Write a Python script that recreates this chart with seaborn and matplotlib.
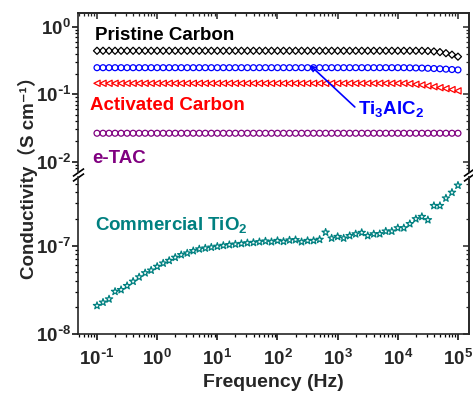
import numpy as np
import matplotlib
matplotlib.use('Agg')
import matplotlib.pyplot as plt
import seaborn as sns
from matplotlib.ticker import LogLocator, NullFormatter

# frequency grid: 10 points per decade, 0.1 Hz .. 100 kHz
freq = np.logspace(-1, 5, 61)

pristine_carbon = [
    0.44, 0.44, 0.44, 0.44, 0.44, 0.44, 0.44, 0.44, 0.44, 0.44,
    0.44, 0.44, 0.44, 0.44, 0.44, 0.44, 0.44, 0.44, 0.44, 0.44,
    0.44, 0.44, 0.44, 0.44, 0.44, 0.44, 0.44, 0.44, 0.44, 0.44,
    0.44, 0.44, 0.44, 0.44, 0.44, 0.44, 0.44, 0.44, 0.44, 0.44,
    0.44, 0.44, 0.44, 0.44, 0.44, 0.44, 0.44, 0.44, 0.44, 0.44,
    0.44, 0.44, 0.44, 0.44, 0.44, 0.437, 0.43, 0.42, 0.405, 0.385,
    0.36]
ti3alc2 = [
    0.247, 0.247, 0.247, 0.247, 0.247, 0.247, 0.247, 0.247, 0.247, 0.247,
    0.247, 0.247, 0.247, 0.247, 0.247, 0.247, 0.247, 0.247, 0.247, 0.247,
    0.247, 0.247, 0.247, 0.247, 0.247, 0.247, 0.247, 0.247, 0.247, 0.247,
    0.247, 0.247, 0.247, 0.247, 0.247, 0.247, 0.247, 0.247, 0.247, 0.247,
    0.247, 0.247, 0.247, 0.247, 0.247, 0.247, 0.247, 0.247, 0.247, 0.247,
    0.247, 0.247, 0.246, 0.245, 0.244, 0.242, 0.240, 0.238, 0.235, 0.232,
    0.229]
activated_carbon = [
    0.145, 0.145, 0.145, 0.145, 0.145, 0.145, 0.145, 0.145, 0.145, 0.145,
    0.145, 0.145, 0.145, 0.145, 0.145, 0.145, 0.145, 0.145, 0.145, 0.145,
    0.145, 0.145, 0.145, 0.145, 0.145, 0.145, 0.145, 0.145, 0.145, 0.145,
    0.145, 0.145, 0.145, 0.145, 0.145, 0.145, 0.145, 0.145, 0.145, 0.145,
    0.145, 0.145, 0.145, 0.145, 0.145, 0.145, 0.145, 0.145, 0.145, 0.145,
    0.145, 0.145, 0.143, 0.140, 0.137, 0.133, 0.129, 0.125, 0.121, 0.117,
    0.112]
e_tac = [
    0.0264, 0.0264, 0.0264, 0.0264, 0.0264, 0.0264, 0.0264, 0.0264, 0.0264, 0.0264,
    0.0264, 0.0264, 0.0264, 0.0264, 0.0264, 0.0264, 0.0264, 0.0264, 0.0264, 0.0264,
    0.0264, 0.0264, 0.0264, 0.0264, 0.0264, 0.0264, 0.0264, 0.0264, 0.0264, 0.0264,
    0.0264, 0.0264, 0.0264, 0.0264, 0.0264, 0.0264, 0.0264, 0.0264, 0.0264, 0.0264,
    0.0264, 0.0264, 0.0264, 0.0264, 0.0264, 0.0264, 0.0264, 0.0264, 0.0264, 0.0264,
    0.0264, 0.0264, 0.0264, 0.0264, 0.0264, 0.0264, 0.0264, 0.0264, 0.0264, 0.0264,
    0.0264]
commercial_tio2 = [
    2.09e-8, 2.28e-8, 2.48e-8, 3.02e-8, 3.16e-8, 3.51e-8, 3.93e-8, 4.40e-8, 4.90e-8, 5.25e-8,
    5.79e-8, 6.31e-8, 6.76e-8, 7.33e-8, 7.85e-8, 8.20e-8, 8.71e-8, 9.12e-8, 9.33e-8, 9.55e-8,
    9.77e-8, 1.00e-7, 1.02e-7, 1.035e-7, 1.05e-7, 1.07e-7, 1.08e-7, 1.10e-7, 1.12e-7, 1.10e-7,
    1.135e-7, 1.11e-7, 1.15e-7, 1.16e-7, 1.10e-7, 1.135e-7, 1.135e-7, 1.17e-7, 1.41e-7, 1.21e-7,
    1.26e-7, 1.21e-7, 1.29e-7, 1.35e-7, 1.40e-7, 1.29e-7, 1.35e-7, 1.355e-7, 1.45e-7, 1.45e-7,
    1.58e-7, 1.58e-7, 1.76e-7, 2.00e-7, 2.12e-7, 1.95e-7, 2.82e-7, 2.82e-7, 3.43e-7, 3.98e-7,
    4.79e-7]

x_exps = [-1, 0, 1, 2, 3, 4, 5]
top_exps = [-2, -1, 0]
bot_exps = [-8, -7]

sns.set_style('ticks')
plt.rcParams['font.family'] = ['Liberation Sans', 'Noto Sans CJK SC', 'DejaVu Sans']
plt.rcParams['font.weight'] = 'bold'
plt.rcParams['mathtext.default'] = 'regular'
plt.rcParams['axes.linewidth'] = 1.2


def pow_label(e):
    # short hyphen in the exponent, like the original
    if e < 0:
        return '10$^{\\text{-}%d}$' % -e
    return '10$^{%d}$' % e


fig = plt.figure(figsize=(4.73, 3.99), dpi=100)
ax_top = fig.add_axes([0.1649, 0.5689, 0.8266, 0.3985])
ax_bot = fig.add_axes([0.1649, 0.1629, 0.8266, 0.3935])


def draw(ax, y, marker, color, size):
    sns.scatterplot(x=freq, y=y, ax=ax, marker=marker, s=size,
                    facecolor='none', edgecolor=color, linewidth=0.9)


draw(ax_top, pristine_carbon, 'D', 'black', 13)
draw(ax_top, ti3alc2, 'o', 'blue', 18)
draw(ax_top, activated_carbon, '<', 'red', 20)
draw(ax_top, e_tac, 'o', '#800080', 18)
draw(ax_bot, commercial_tio2, '*', '#008080', 30)

for ax in (ax_top, ax_bot):
    ax.set_xscale('log')
    ax.set_yscale('log')
    ax.set_xlim(10 ** -1.316, 10 ** 5.183)
    ax.set_xticks([10.0 ** e for e in x_exps], labels=[pow_label(e) for e in x_exps])
    ax.xaxis.set_minor_locator(LogLocator(base=10, subs=np.arange(2, 10), numticks=20))
    ax.yaxis.set_minor_locator(LogLocator(base=10, subs=np.arange(2, 10), numticks=20))
    ax.xaxis.set_minor_formatter(NullFormatter())
    ax.yaxis.set_minor_formatter(NullFormatter())
    ax.tick_params(which='major', length=4, width=1.1, labelsize=13.5, pad=1, color='black')
    ax.tick_params(which='minor', length=2.5, width=0.9, color='black')
    ax.tick_params(axis='x', pad=7)
    ax.set_xlabel('')
    ax.set_ylabel('')
    # mirrored ticks on the right, pointing inwards
    sec = ax.secondary_yaxis('right')
    sec.yaxis.set_minor_locator(LogLocator(base=10, subs=np.arange(2, 10), numticks=20))
    sec.tick_params(which='both', direction='in', labelright=False)
    sec.tick_params(which='major', length=4, width=1.1)
    sec.tick_params(which='minor', length=2.5, width=0.9)

ax_top.set_ylim(10 ** -2.153, 10 ** 0.203)
ax_top.set_yticks([10.0 ** e for e in top_exps], labels=[pow_label(e) for e in top_exps])
ax_top.spines['bottom'].set_visible(False)
ax_top.tick_params(axis='x', which='both', bottom=False, labelbottom=False)
top_sec = ax_top.secondary_xaxis('top')
top_sec.xaxis.set_minor_locator(LogLocator(base=10, subs=np.arange(2, 10), numticks=20))
top_sec.tick_params(which='both', direction='in', labeltop=False)
top_sec.tick_params(which='major', length=4, width=1.1)
top_sec.tick_params(which='minor', length=2.5, width=0.9)

ax_bot.set_ylim(1e-8, 10 ** -6.225)
ax_bot.set_yticks([10.0 ** e for e in bot_exps], labels=[pow_label(e) for e in bot_exps])
ax_bot.spines['top'].set_visible(False)
ax_bot.set_xlabel('Frequency (Hz)', fontsize=14, fontweight='bold', labelpad=3)

fig.text(0.060, 0.565, 'Conductivity（S cm⁻¹）', rotation=90, ha='center', va='center',
         fontsize=13.5, fontweight='bold')

# break marks on the y axis
brk = dict(marker=[(-1, -0.7), (1, 0.7)], markersize=8, linestyle='none',
           color='k', mec='k', mew=1.2, clip_on=False)
ax_top.plot([0, 1], [0, 0], transform=ax_top.transAxes, **brk)
ax_bot.plot([0, 1], [1, 1], transform=ax_bot.transAxes, **brk)

# labels
ax_top.text(0.043, 0.830, 'Pristine Carbon', transform=ax_top.transAxes,
            color='black', fontsize=13.5, fontweight='bold', va='baseline')
ax_top.text(0.031, 0.390, 'Activated Carbon', transform=ax_top.transAxes,
            color='red', fontsize=13.5, fontweight='bold', va='baseline')
ax_top.text(0.036, 0.057, 'e-TAC', transform=ax_top.transAxes,
            color='#800080', fontsize=13.5, fontweight='bold', va='baseline')
ax_top.text(0.716, 0.365, 'Ti$_3$AlC$_2$', transform=ax_top.transAxes,
            color='blue', fontsize=13.5, fontweight='bold', va='baseline')
ax_top.annotate('', xy=(0.593, 0.673), xytext=(0.708, 0.409),
                xycoords='axes fraction', textcoords='axes fraction',
                arrowprops=dict(arrowstyle='->', color='blue', lw=1.2,
                                mutation_scale=9, shrinkA=0, shrinkB=0))
ax_bot.text(0.043, 0.662, 'Commercial TiO$_2$', transform=ax_bot.transAxes,
            color='#008080', fontsize=13.5, fontweight='bold', va='baseline')

fig.savefig('out.png', dpi=100)
